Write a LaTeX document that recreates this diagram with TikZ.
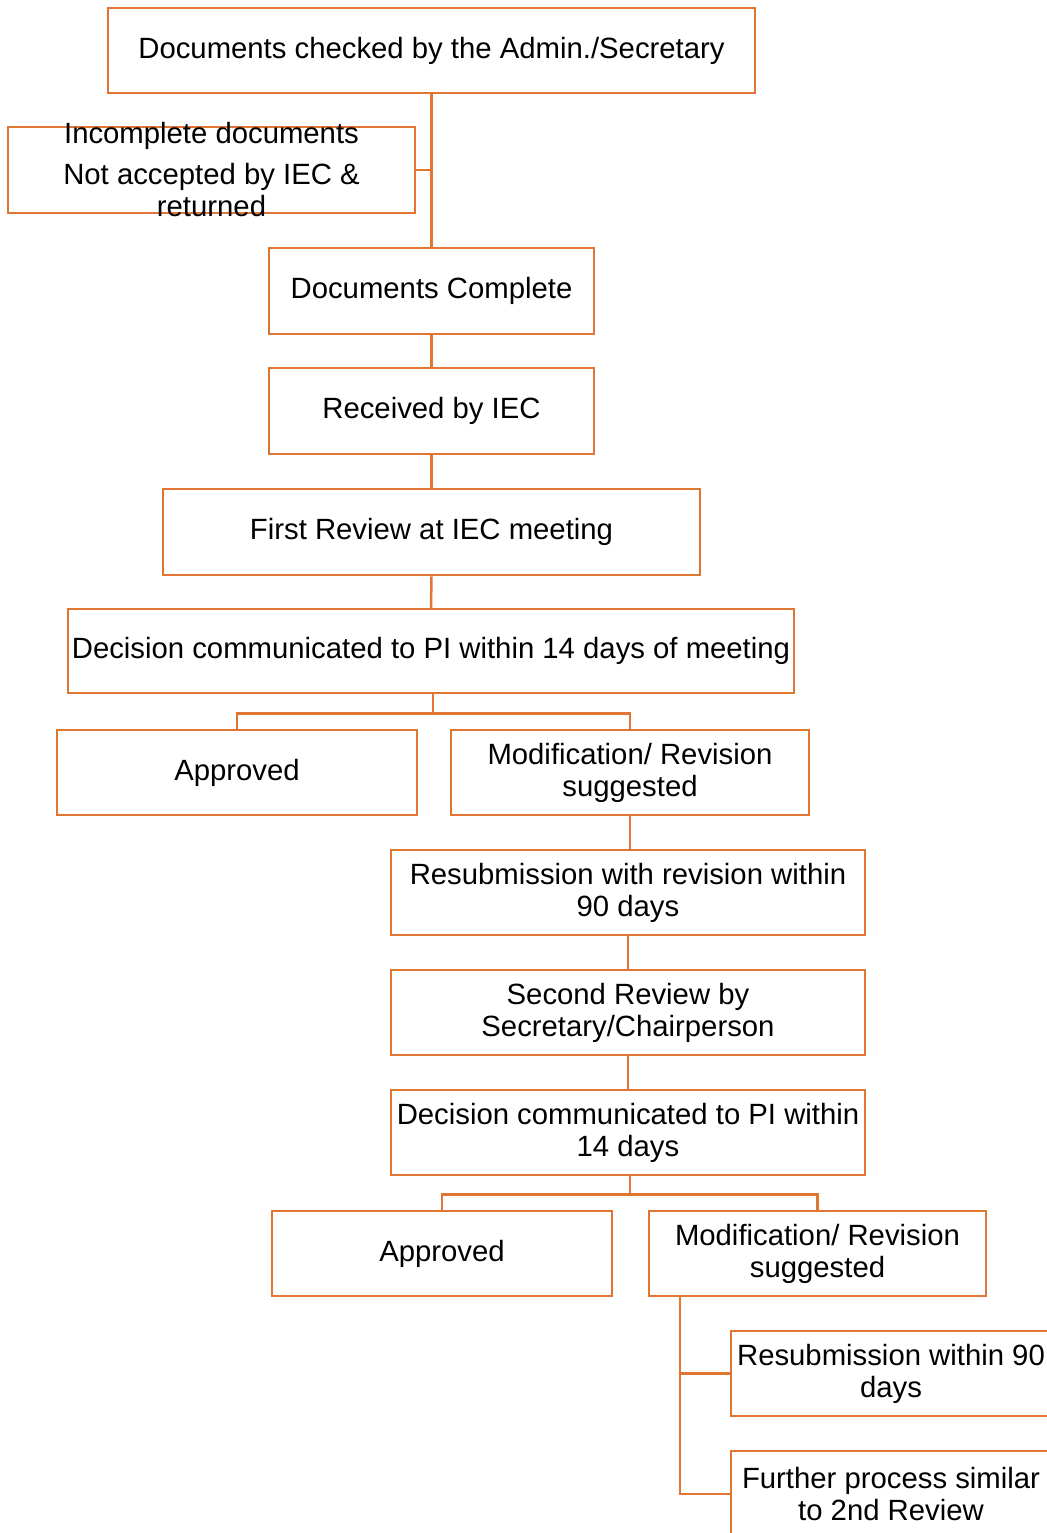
\documentclass[tikz,border=0pt]{standalone}
\usepackage{fontspec}
\setmainfont{Liberation Sans}
\usetikzlibrary{positioning,calc}
\definecolor{boxorange}{RGB}{224,118,50}

\begin{document}
\begin{tikzpicture}[x=0.5pt, y=-0.5pt,
        stagebox/.style={draw=boxorange, line width=1.25pt, inner sep=0pt, align=center,
            font=\fontsize{14.65}{16}\selectfont},
        link/.style={draw=boxorange, line width=1.25pt}]
        \useasboundingbox (0,0) rectangle (1047,1533);
        \clip (0,0) rectangle (1047,1533);
        % main column
        \node[stagebox, minimum width=323.5pt, minimum height=42.5pt] (top) at (431.5,50.5) {Documents checked by the Admin./Secretary};
        \node[stagebox, minimum width=203.5pt, minimum height=43pt,
            label={[align=center, font=\fontsize{14.65}{16}\selectfont]center:{Incomplete documents\\[4.5pt]Not accepted by IEC \&\\returned}}] (incomplete) at (211.5,170) {};
        \node[stagebox, minimum width=162.5pt, minimum height=43pt] (complete) at (431.5,291) {Documents Complete};
        \node[stagebox, minimum width=162.5pt, minimum height=43pt] (received) at (431.5,411) {Received by IEC};
        \node[stagebox, minimum width=268.5pt, minimum height=43pt] (firstrev) at (431.5,532) {First Review at IEC meeting};
        \node[stagebox, minimum width=363pt, minimum height=42pt] (decision) at (431,651) {Decision communicated to PI within 14 days of meeting};
        \node[stagebox, minimum width=180pt, minimum height=42.5pt] (approvedA) at (237,772.5) {Approved};
        \node[stagebox, minimum width=179pt, minimum height=42.5pt] (modifA) at (630,772.5) {Modification/ Revision\\suggested};
        % second round
        \node[stagebox, minimum width=237pt, minimum height=42.5pt] (resub) at (628,892.5) {Resubmission with revision within\\90 days};
        \node[stagebox, minimum width=237pt, minimum height=42.5pt] (secondrev) at (628,1012.5) {Second Review by\\Secretary/Chairperson};
        \node[stagebox, minimum width=237pt, minimum height=42.5pt] (decisionB) at (628,1132.5) {Decision communicated to PI within\\14 days};
        \node[stagebox, minimum width=170pt, minimum height=42.5pt] (approvedB) at (442,1253.5) {Approved};
        \node[stagebox, minimum width=168.5pt, minimum height=42.5pt] (modifB) at (817.5,1253.5) {Modification/ Revision\\suggested};
        \node[stagebox, minimum width=160pt, minimum height=42.5pt] (resubB) at (891,1373.5) {Resubmission within 90\\days};
        \node[stagebox, minimum width=160pt, minimum height=43pt] (further) at (891,1494) {Further process similar\\to 2nd Review};

        % connectors
        \draw[link] (top.south) -- (complete.north);
        \draw[link] (incomplete.east) -- (incomplete.east -| top.south);
        \draw[link] (complete) -- (received);
        \draw[link] (received) -- (firstrev);
        \draw[link] (firstrev) -- (decision);
        \draw[link] ($(decision.south)+(2,0)$) -- ++(0,19) coordinate (fork1);
        \draw[link] (approvedA.north) |- (fork1) -| (modifA.north);
        \draw[link] (modifA) -- (modifA |- resub.north);
        \draw[link] (resub) -- (secondrev);
        \draw[link] (secondrev) -- (decisionB);
        \draw[link] ($(decisionB.south)+(2,0)$) -- ++(0,18) coordinate (fork2);
        \draw[link] (approvedB.north) |- (fork2) -| (modifB.north);
        \coordinate (spine) at ($(modifB.south west)+(32,0)$);
        \draw[link] (spine) |- (resubB.west);
        \draw[link] (spine) |- (further.west);
\end{tikzpicture}
\end{document}
